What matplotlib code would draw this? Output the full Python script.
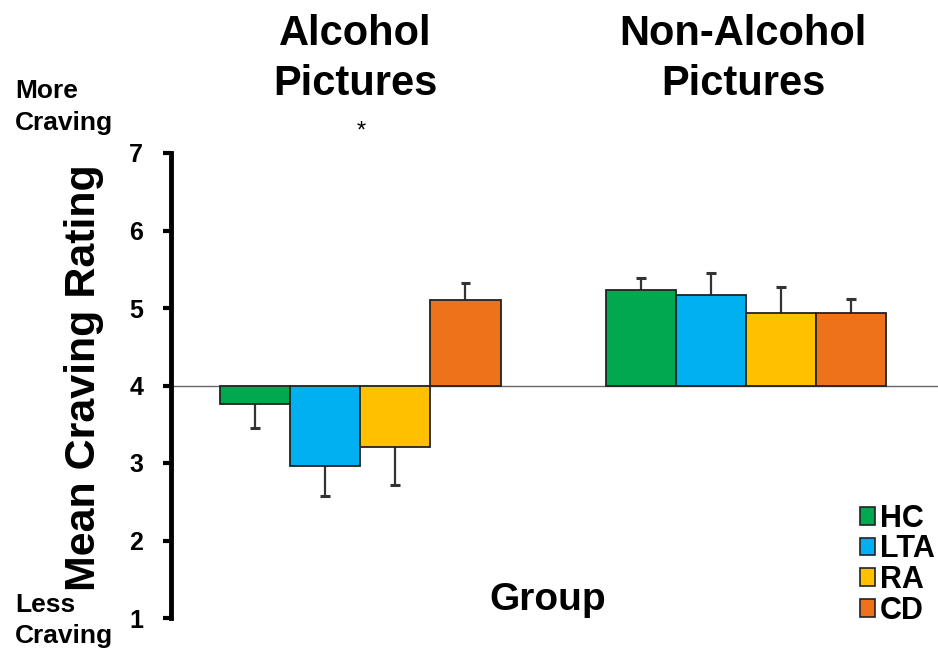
"""
Mean craving rating by group for alcohol vs non-alcohol pictures.
"""

import numpy as np
import matplotlib
matplotlib.use("Agg")
import matplotlib.pyplot as plt
from matplotlib.patches import Patch

plt.rcParams["font.family"] = ["Liberation Sans", "DejaVu Sans"]

# data
groups = ["HC", "LTA", "RA", "CD"]
conditions = ["Alcohol\nPictures", "Non-Alcohol\nPictures"]
alcohol_means = [3.76, 2.96, 3.21, 5.10]
alcohol_err = [0.31, 0.38, 0.49, 0.22]
nonalcohol_means = [5.23, 5.17, 4.93, 4.93]
nonalcohol_err = [0.16, 0.28, 0.34, 0.18]
yticks = [1, 2, 3, 4, 5, 6, 7]

colors = ["#00A84F", "#00B0F0", "#FFC000", "#EE7219"]
baseline = 4

W, H = 938, 654
fig = plt.figure(figsize=(W / 100, H / 100), dpi=100)
ax = fig.add_axes([171 / W, 36 / H, 1 - 171 / W, (618 - 153) / H])

centers = [0.0, 5.5]
offsets = np.array([-1.5, -0.5, 0.5, 1.5])
width = 1.0
cap = 0.07

for c, means, errs in zip(centers, [alcohol_means, nonalcohol_means],
                          [alcohol_err, nonalcohol_err]):
    means = np.array(means)
    errs = np.array(errs)
    xs = c + offsets
    ax.bar(xs, means - baseline, bottom=baseline, width=width,
           color=colors, edgecolor="#222222", linewidth=1.3, zorder=3)
    # error bars only point away from the baseline
    ends = np.where(means < baseline, means - errs, means + errs)
    ax.vlines(xs, means, ends, color="#333333", linewidth=1.6, zorder=2)
    ax.hlines(ends, xs - cap, xs + cap, color="#333333", linewidth=2.2, zorder=2)

ax.axhline(baseline, color="#666666", linewidth=1, zorder=1)

ax.set_xlim(-2.7, 8.24)
ax.set_ylim(1, 7)
ax.set_yticks(yticks)
ax.set_xticks([])
for s in ["top", "right", "bottom"]:
    ax.spines[s].set_visible(False)
ax.spines["left"].set_linewidth(3.5)
ax.tick_params(axis="y", direction="out", length=6, width=3, labelsize=18, pad=14)
for lbl in ax.get_yticklabels():
    lbl.set_fontweight("bold")

ax.set_ylabel("Mean Craving Rating", fontsize=31, fontweight="bold")
ax.yaxis.set_label_coords(-0.088, 0.518)

# condition titles, one text per line
for cx, cond in zip([355, 743], conditions):
    top, bottom = cond.split("\n")
    fig.text(cx / W, 1 - 45 / H, top, ha="center", va="baseline",
             fontsize=30, fontweight="bold")
    fig.text(cx / W, 1 - 95 / H, bottom, ha="center", va="baseline",
             fontsize=30, fontweight="bold")
fig.text(361 / W, 1 - 138 / H, "*", ha="center", va="baseline",
         fontsize=17)

fig.text(15 / W, 1 - 98 / H, "More", ha="left", va="baseline",
         fontsize=19, fontweight="bold")
fig.text(15 / W, 1 - 130 / H, "Craving", ha="left", va="baseline",
         fontsize=19, fontweight="bold")
fig.text(15 / W, 1 - 612 / H, "Less", ha="left", va="baseline",
         fontsize=19, fontweight="bold")
fig.text(15 / W, 1 - 643 / H, "Craving", ha="left", va="baseline",
         fontsize=19, fontweight="bold")

fig.text(548 / W, 1 - 610 / H, "Group", ha="center", va="baseline",
         fontsize=28, fontweight="bold")

handles = [Patch(facecolor=col, edgecolor="#222222", linewidth=1.2, label=g)
           for col, g in zip(colors, groups)]
fig.legend(handles=handles, loc="lower right", bbox_to_anchor=(1.013, 0.02),
           frameon=False, handlelength=0.5, handleheight=0.5,
           handletextpad=0.15, labelspacing=0.02, borderaxespad=0.1,
           prop={"weight": "bold", "size": 22})

fig.savefig("out.png", dpi=100)
